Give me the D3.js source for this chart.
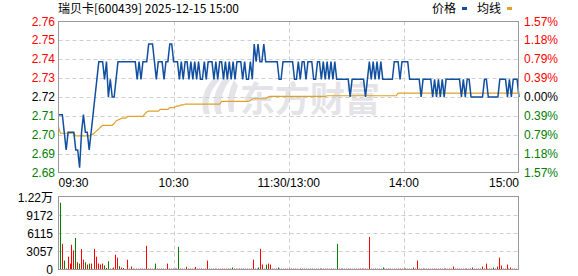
<!DOCTYPE html>
<html>
<head>
<meta charset="utf-8">
<script src="https://cdn.jsdelivr.net/npm/d3@7"></script>
<style>
    body {margin: 0; background: #fff;}
    svg {display: block;}
    text {font-family: "Liberation Sans", Arial, sans-serif; font-size: 12px;}
    .cjk {font-family: "Noto Sans CJK SC", "Liberation Sans", sans-serif;}
</style>
</head>
<body>
<div id="chart"></div>
<script>
// data
const chartTitle = "瑞贝卡[600439] 2025-12-15 15:00"
const prevClose = 2.72
const maxPct = 1.57
const priceLabels = ["2.76", "2.75", "2.74", "2.73", "2.72", "2.71", "2.70", "2.69", "2.68"]
const pctLabels = ["1.57%", "1.18%", "0.79%", "0.39%", "0.00%", "0.39%", "0.79%", "1.18%", "1.57%"]
const timeLabels = ["09:30", "10:30", "11:30/13:00", "14:00", "15:00"]
const timeMinutes = [0, 60, 120, 180, 240]
const volMax = 12229
const volLabels = ["0", "3057", "6115", "9172", "1.22万"]

const price = [
    2.71, 2.71, 2.71, 2.70, 2.69, 2.70, 2.70, 2.70, 2.70, 2.69,
    2.69, 2.68, 2.70, 2.71, 2.70, 2.70, 2.69, 2.70, 2.71, 2.72,
    2.73, 2.74, 2.74, 2.74, 2.73, 2.74, 2.72, 2.73, 2.72, 2.72,
    2.73, 2.74, 2.74, 2.74, 2.74, 2.74, 2.74, 2.74, 2.74, 2.74,
    2.74, 2.73, 2.74, 2.73, 2.74, 2.74, 2.74, 2.75, 2.75, 2.75,
    2.74, 2.73, 2.74, 2.74, 2.74, 2.73, 2.74, 2.74, 2.75, 2.75,
    2.74, 2.74, 2.74, 2.73, 2.74, 2.73, 2.74, 2.74, 2.73, 2.74,
    2.73, 2.74, 2.73, 2.74, 2.73, 2.73, 2.74, 2.73, 2.74, 2.74,
    2.74, 2.73, 2.74, 2.73, 2.74, 2.74, 2.73, 2.74, 2.73, 2.74,
    2.73, 2.74, 2.73, 2.74, 2.74, 2.74, 2.73, 2.74, 2.73, 2.73,
    2.74, 2.73, 2.75, 2.74, 2.75, 2.74, 2.74, 2.75, 2.74, 2.74,
    2.74, 2.74, 2.74, 2.74, 2.74, 2.73, 2.73, 2.74, 2.74, 2.74,
    2.74, 2.74, 2.74, 2.73, 2.73, 2.74, 2.73, 2.74, 2.74, 2.73,
    2.74, 2.74, 2.74, 2.73, 2.73, 2.74, 2.74, 2.73, 2.74, 2.73,
    2.74, 2.73, 2.74, 2.73, 2.74, 2.73, 2.73, 2.73, 2.73, 2.73,
    2.73, 2.73, 2.72, 2.73, 2.73, 2.73, 2.73, 2.73, 2.73, 2.73,
    2.72, 2.73, 2.74, 2.73, 2.74, 2.73, 2.74, 2.73, 2.74, 2.73,
    2.73, 2.73, 2.73, 2.73, 2.73, 2.74, 2.74, 2.74, 2.73, 2.74,
    2.74, 2.74, 2.74, 2.73, 2.73, 2.73, 2.73, 2.73, 2.73, 2.72,
    2.73, 2.73, 2.73, 2.73, 2.73, 2.72, 2.73, 2.72, 2.73, 2.72,
    2.73, 2.72, 2.73, 2.73, 2.73, 2.73, 2.73, 2.73, 2.73, 2.73,
    2.72, 2.73, 2.72, 2.73, 2.73, 2.72, 2.72, 2.72, 2.72, 2.72,
    2.72, 2.72, 2.73, 2.73, 2.72, 2.72, 2.72, 2.72, 2.72, 2.72,
    2.73, 2.73, 2.73, 2.73, 2.72, 2.73, 2.72, 2.73, 2.73, 2.73,
    2.72
]

const avgPrice = [
    2.703, 2.6995, 2.6995, 2.6995, 2.6995, 2.6995, 2.6995, 2.6995, 2.6995, 2.698,
    2.698, 2.698, 2.698, 2.698, 2.698, 2.698, 2.698, 2.6985, 2.699, 2.700,
    2.701, 2.702, 2.703, 2.704, 2.704, 2.704, 2.704, 2.704, 2.704, 2.705,
    2.7065, 2.707, 2.7075, 2.708, 2.708, 2.708, 2.709, 2.709, 2.709, 2.709,
    2.709, 2.709, 2.709, 2.709, 2.709, 2.7105, 2.7115, 2.712, 2.712, 2.712,
    2.712, 2.712, 2.712, 2.713, 2.713, 2.713, 2.713, 2.713, 2.714, 2.714,
    2.714, 2.7145, 2.715, 2.715, 2.7155, 2.7155, 2.716, 2.716, 2.716, 2.716,
    2.716, 2.716, 2.716, 2.716, 2.716, 2.716, 2.716, 2.716, 2.716, 2.716,
    2.716, 2.716, 2.716, 2.716, 2.716, 2.7175, 2.7175, 2.7175, 2.7175, 2.7175,
    2.7175, 2.7175, 2.7175, 2.7175, 2.7175, 2.7175, 2.7175, 2.7175, 2.7175, 2.7175,
    2.718, 2.719, 2.719, 2.719, 2.719, 2.719, 2.719, 2.719, 2.719, 2.7198,
    2.7203, 2.7203, 2.7203, 2.7203, 2.7203, 2.7203, 2.7203, 2.7203, 2.7203, 2.7203,
    2.7203, 2.7203, 2.7203, 2.7203, 2.7203, 2.7203, 2.7203, 2.7203, 2.7203, 2.7203,
    2.7203, 2.7203, 2.7203, 2.7203, 2.7203, 2.7203, 2.7203, 2.7203, 2.7203, 2.7203,
    2.7207, 2.7207, 2.7207, 2.7207, 2.7207, 2.7207, 2.7207, 2.7207, 2.7207, 2.7207,
    2.7207, 2.7207, 2.7207, 2.7207, 2.7207, 2.7207, 2.7207, 2.7207, 2.7207, 2.7207,
    2.7207, 2.7207, 2.7207, 2.7207, 2.7207, 2.7207, 2.7207, 2.7207, 2.7207, 2.7207,
    2.7207, 2.7207, 2.7207, 2.7207, 2.7207, 2.7207, 2.7207, 2.7222, 2.7222, 2.7222,
    2.7222, 2.7222, 2.7222, 2.7222, 2.7222, 2.7222, 2.7222, 2.7222, 2.7222, 2.7222,
    2.7222, 2.7222, 2.7222, 2.7222, 2.7222, 2.7222, 2.7222, 2.7222, 2.7222, 2.7222,
    2.7222, 2.7222, 2.7222, 2.7222, 2.7222, 2.7222, 2.7222, 2.7222, 2.7222, 2.7222,
    2.7222, 2.7222, 2.7222, 2.7222, 2.7222, 2.7222, 2.7222, 2.7222, 2.7222, 2.7222,
    2.7222, 2.7222, 2.7222, 2.7222, 2.7222, 2.7222, 2.7222, 2.7222, 2.7222, 2.7222,
    2.7222, 2.7222, 2.7222, 2.7222, 2.7222, 2.7222, 2.7222, 2.7222, 2.7222, 2.7222,
    2.7222
]

const volume = [
    11185, 4300, 1490, 180, 2150, 990, 4130, 3200, 5290, 1210,
    990, 3420, 1650, 1210, 830, 990, 990, 120, 3470, 2150,
    990, 830, 990, 660, 250, 1380, 150, 150, 330, 2480,
    1980, 550, 330, 250, 100, 1650, 150, 500, 150, 120,
    150, 130, 160, 150, 140, 3970, 150, 160, 130, 150,
    990, 150, 140, 160, 150, 130, 990, 150, 140, 150,
    160, 150, 3800, 150, 140, 130, 450, 150, 160, 140,
    150, 450, 140, 150, 160, 130, 150, 1490, 150, 140,
    160, 150, 140, 150, 130, 160, 150, 140, 150, 160,
    330, 150, 140, 130, 150, 160, 150, 140, 150, 130,
    160, 1650, 150, 140, 330, 3470, 830, 150, 830, 990,
    830, 150, 140, 160, 330, 150, 140, 130, 150, 140,
    150, 160, 140, 150, 130, 0, 160, 140, 150, 150,
    140, 160, 150, 130, 150, 140, 160, 150, 140, 150,
    150, 140, 160, 150, 130, 4300, 150, 140, 160, 150,
    140, 150, 160, 130, 150, 140, 150, 160, 150, 140,
    150, 130, 5455, 150, 140, 160, 150, 140, 150, 330,
    150, 140, 160, 150, 130, 150, 140, 160, 150, 140,
    150, 160, 140, 150, 130, 330, 150, 1490, 150, 140,
    160, 150, 140, 150, 130, 150, 160, 140, 150, 150,
    140, 160, 150, 130, 150, 140, 500, 150, 160, 140,
    150, 140, 160, 150, 130, 150, 330, 150, 140, 160,
    150, 500, 150, 990, 140, 160, 150, 330, 150, 500,
    1980, 660, 150, 140, 830, 150, 330, 140, 150, 130,
    830
]
// minutes whose volume bar is green (the rest are red)
const greenBars = [0, 2, 8, 10, 13, 15, 23, 25, 31, 50, 62, 80, 90, 96, 104, 108, 114,
    131, 135, 139, 145, 153, 169, 180, 183, 210, 227, 240]

//dimensions
const width = 578, height = 276
const plot = {left: 58.5, right: 518.5, top: 21.5, bottom: 172.5}
const volPlot = {top: 196.5, bottom: 269.5}
const red = "#ff0000", green = "#008000", gridColor = "#cfcfcf", borderColor = "#999"

//canvas
const svg = d3.select("#chart").append("svg")
    .attr("width", width)
    .attr("height", height)

//scales
const xScale = d3.scaleLinear().domain([0, 240]).range([plot.left, plot.right + 0.5])
const xBar = d3.scaleLinear().domain([0, 240]).range([60, 518])
const yMax = prevClose * (1 + maxPct / 100)
const yMin = prevClose * (1 - maxPct / 100)
const yScale = d3.scaleLinear().domain([yMin, yMax]).range([plot.bottom, plot.top])
const yVol = d3.scaleLinear().domain([0, volMax]).range([volPlot.bottom, volPlot.top])

const priceTicks = priceLabels.map((d, i) => yMax - i * (yMax - yMin) / (priceLabels.length - 1))
const volTicks = volLabels.map((d, i) => i * volMax / (volLabels.length - 1))

function labelColor(i, mid) {
    if (i < mid) return red
    if (i > mid) return green
    return "#000"
}

// watermark
const mark = svg.append("g").attr("fill", "#e4e4e8")
mark.append("path").attr("d", "M214,78 C204,88 200,100 204,114 L210,114 C206,101 210,90 220,80 Z")
mark.append("path").attr("d", "M224,78 C214,90 212,102 216,114 L222,114 C219,102 222,91 230,80 Z")
mark.append("path").attr("d", "M234,80 C228,92 227,102 229,112 L234,112 C233,103 235,94 238,86 Z")
mark.append("text")
    .attr("class", "cjk")
    .attr("x", 240)
    .attr("y", 112)
    .style("font-size", "35px")
    .style("font-weight", "700")
    .text("东方财富")

// price grid
svg.append("g").selectAll("line")
    .data(priceTicks.slice(1, -1))
    .join("line")
    .attr("x1", plot.left).attr("x2", plot.right)
    .attr("y1", d => Math.round(yScale(d)) + 0.5).attr("y2", d => Math.round(yScale(d)) + 0.5)
    .attr("stroke", gridColor)
    .attr("stroke-dasharray", "4,3")
svg.append("g").selectAll("line")
    .data(timeMinutes.slice(1, -1))
    .join("line")
    .attr("x1", d => Math.round(xScale(d)) + 0.5).attr("x2", d => Math.round(xScale(d)) + 0.5)
    .attr("y1", plot.top).attr("y2", plot.bottom)
    .attr("stroke", gridColor)
    .attr("stroke-dasharray", "4,3")

// volume grid
svg.append("g").selectAll("line")
    .data(volTicks.slice(1, -1))
    .join("line")
    .attr("x1", plot.left).attr("x2", plot.right)
    .attr("y1", d => Math.round(yVol(d)) + 0.5).attr("y2", d => Math.round(yVol(d)) + 0.5)
    .attr("stroke", gridColor)
    .attr("stroke-dasharray", "4,3")
svg.append("g").selectAll("line")
    .data(timeMinutes.slice(1, -1))
    .join("line")
    .attr("x1", d => Math.round(xScale(d)) + 0.5).attr("x2", d => Math.round(xScale(d)) + 0.5)
    .attr("y1", volPlot.top).attr("y2", volPlot.bottom)
    .attr("stroke", gridColor)
    .attr("stroke-dasharray", "4,3")

// draw data
const avgLine = d3.line()
    .x((d, i) => xScale(i))
    .y(d => yScale(d))
svg.append("path")
    .attr("d", avgLine(avgPrice))
    .attr("fill", "none")
    .attr("stroke", "#e0a228")
    .attr("stroke-width", 1.2)
const priceLine = d3.line()
    .x((d, i) => xScale(i))
    .y(d => yScale(d))
svg.append("path")
    .attr("d", priceLine(price))
    .attr("fill", "none")
    .attr("stroke", "#1150a0")
    .attr("stroke-width", 1.5)

svg.append("g").selectAll("rect")
    .data(volume)
    .join("rect")
    .attr("x", (d, i) => Math.round(xBar(i)))
    .attr("width", 1)
    .attr("y", d => yVol(d))
    .attr("height", d => volPlot.bottom - yVol(d))
    .attr("fill", (d, i) => greenBars.includes(i) ? green : red)

// borders
svg.append("rect")
    .attr("x", plot.left).attr("y", plot.top)
    .attr("width", plot.right - plot.left).attr("height", plot.bottom - plot.top)
    .attr("fill", "none").attr("stroke", borderColor)
svg.append("rect")
    .attr("x", plot.left).attr("y", volPlot.top)
    .attr("width", plot.right - plot.left).attr("height", volPlot.bottom - volPlot.top)
    .attr("fill", "none").attr("stroke", borderColor)

// axes labels
svg.append("g").selectAll("text")
    .data(priceLabels)
    .join("text")
    .attr("x", 55)
    .attr("y", (d, i) => yScale(priceTicks[i]) + 4)
    .attr("text-anchor", "end")
    .attr("fill", (d, i) => labelColor(i, 4))
    .text(d => d)
svg.append("g").selectAll("text")
    .data(pctLabels)
    .join("text")
    .attr("x", 524)
    .attr("y", (d, i) => yScale(priceTicks[i]) + 4)
    .attr("fill", (d, i) => labelColor(i, 4))
    .text(d => d)
svg.append("g").selectAll("text")
    .data(timeLabels)
    .join("text")
    .attr("x", (d, i) => xScale(timeMinutes[i]))
    .attr("y", 187)
    .attr("text-anchor", (d, i) => i === 0 ? "start" : (i === timeLabels.length - 1 ? "end" : "middle"))
    .attr("fill", "#000")
    .text(d => d)
svg.append("g").selectAll("text")
    .data(volLabels)
    .join("text")
    .attr("class", "cjk")
    .attr("x", 53)
    .attr("y", (d, i) => yVol(volTicks[i]) + (i === 0 ? 4 : 5))
    .attr("text-anchor", "end")
    .attr("fill", "#000")
    .style("font-family", "'Liberation Sans', 'Noto Sans CJK SC', sans-serif")
    .text(d => d)

// title and legend
svg.append("text")
    .attr("class", "cjk")
    .attr("x", 58)
    .attr("y", 13)
    .attr("fill", "#000")
    .text(chartTitle)
svg.append("text").attr("class", "cjk").attr("x", 432).attr("y", 13).text("价格")
svg.append("rect").attr("x", 462).attr("y", 7).attr("width", 5).attr("height", 3).attr("fill", "#1150a0")
svg.append("text").attr("class", "cjk").attr("x", 477).attr("y", 13).text("均线")
svg.append("rect").attr("x", 507).attr("y", 7).attr("width", 5).attr("height", 3).attr("fill", "#e0a228")

console.log(price.length, avgPrice.length, volume.length)
</script>
</body>
</html>
